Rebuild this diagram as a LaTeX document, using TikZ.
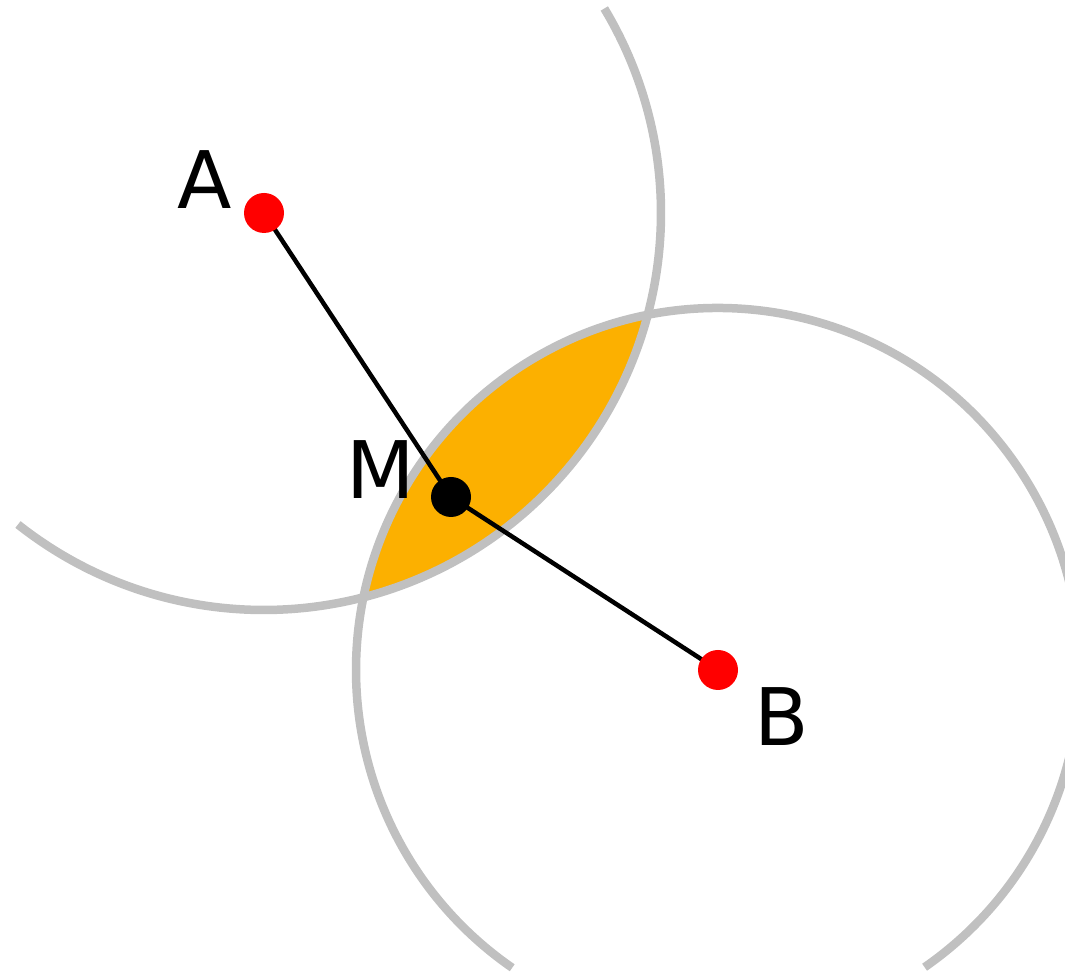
\documentclass[tikz,border=0pt]{standalone}
\usepackage{fontspec}
\setmainfont{DejaVu Sans}
\definecolor{arcgray}{RGB}{192,192,192}
\definecolor{lensorange}{RGB}{252,176,0}
\definecolor{dotred}{RGB}{255,0,0}
\tikzset{
  arcline/.style={draw=arcgray, line width=0.085cm},
  seg/.style={draw=black, line width=0.045cm},
  reddot/.style={circle, fill=dotred, minimum size=0.40cm, inner sep=0pt},
  blackdot/.style={circle, fill=black, minimum size=0.40cm, inner sep=0pt},
  lbl/.style={font=\fontsize{22.6}{27}\selectfont, inner sep=0pt}
}
\begin{document}
\begin{tikzpicture}
\useasboundingbox (0,0) rectangle (10.65,9.74);
\coordinate (pA) at (2.64,7.61);
\coordinate (pB) at (7.18,3.04);
\coordinate (pM) at (4.51,4.77);
% lens
\begin{scope}
  \clip (pA) circle (3.97cm);
  \fill[lensorange] (pB) circle (3.62cm);
\end{scope}
% arcs
\draw[arcline] (pA) ++(231.7:3.97cm) arc[start angle=231.7, end angle=391.0, radius=3.97cm];
\draw[arcline] (pB) ++(-55.2:3.62cm) arc[start angle=-55.2, end angle=235.35, radius=3.62cm];
% segments
\draw[seg] (pA) -- (pM) -- (pB);
% dots
\node[reddot] (A) at (pA) {};
\node[reddot] (B) at (pB) {};
\node[blackdot] (M) at (pM) {};
% labels
\node[lbl] (lA) at (2.05,7.94) {A};
\node[lbl] (lM) at (3.81,5.04) {M};
\node[lbl] (lB) at (7.82,2.57) {B};
\end{tikzpicture}
\end{document}
